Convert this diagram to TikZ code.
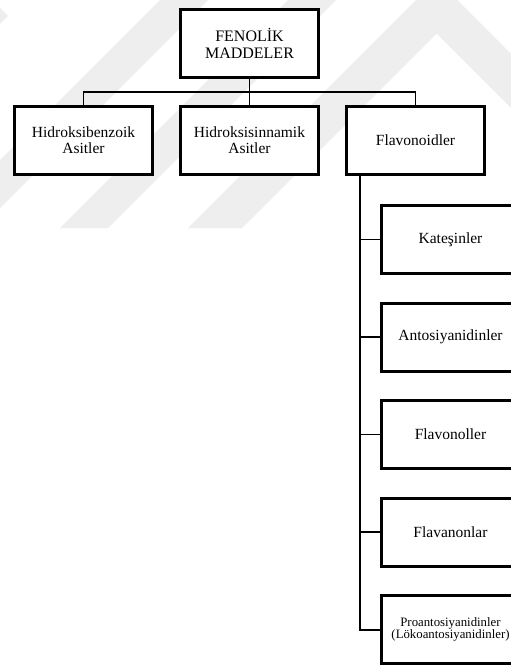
\documentclass[tikz,border=0pt]{standalone}
\usepackage{fontspec}
\setmainfont{Liberation Serif}
\usetikzlibrary{shadows}
\definecolor{wm}{RGB}{238,238,238}
\begin{document}
\begin{tikzpicture}[x=1pt,y=-1pt,
  box/.style={draw=black, line width=3pt, fill=white, rectangle, align=center,
    inner sep=0pt, outer sep=0pt, text=black,
    font=\fontsize{15.5}{16.5}\selectfont,
    drop shadow={shadow xshift=1.2pt, shadow yshift=-1.6pt, opacity=0.28}},
  topbox/.style={box, minimum width=138pt, minimum height=68.5pt,
    font=\fontsize{16}{16.5}\selectfont},
  rowbox/.style={box, minimum width=138pt, minimum height=68.5pt},
  childbox/.style={box, minimum width=139pt, minimum height=68pt},
  smalltext/.style={font=\fontsize{12.8}{12}\selectfont},
  conn/.style={draw=black, line width=1.4pt},
  bar/.style={draw=black, line width=1.2pt},
  trunk/.style={draw=black, line width=2pt},
  wmark/.style={fill=wm, draw=none}
]
\useasboundingbox (0,0) rectangle (511,669);
\clip (0,0) rectangle (511,669);
\fill[white] (0,0) rectangle (511,669);

% faint watermark
\fill[wmark] (0,8) -- (8,16) -- (0,24) -- cycle;
\fill[wmark] (160,0) -- (208,0) -- (0,208) -- (0,160) -- cycle;
\fill[wmark] (288,0) -- (336,0) -- (108,228) -- (60,228) -- cycle;
\fill[wmark] (416,0) -- (457,0) -- (511,54) -- (511,108) -- (436.5,33.5)
  -- (242,228) -- (188,228) -- cycle;

% nodes
\node[topbox] (top) at (249.5,43.4) {FENOLİK\\MADDELER};
\node[rowbox] (hb) at (83.5,140.3) {Hidroksibenzoik\\Asitler};
\node[rowbox] (hs) at (249.5,140.3) {Hidroksisinnamik\\Asitler};
\node[rowbox] (fl) at (415.5,140.3) {Flavonoidler};

\node[childbox] (c1) at (450.5,239.5) {Kateşinler};
\node[childbox] (c2) at (450.5,337) {Antosiyanidinler};
\node[childbox] (c3) at (450.5,434.5) {Flavonoller};
\node[childbox] (c4) at (450.5,532) {Flavanonlar};
\node[childbox, smalltext] (c5) at (450.5,629.5) {Proantosiyanidinler\\(Lökoantosiyanidinler)};

% connector points
\coordinate (jl) at (83.5,92);
\coordinate (jm) at (249.5,92);
\coordinate (jr) at (415.5,92);
\coordinate (tk) at (360,176);

% connectors
\draw[conn] (top.south) -- (hs.north);
\draw[bar] (hb.north) -- (jl) -- (jm) -- (jr) -- (fl.north);
\draw[trunk] (tk) |- (c5.west);
\draw[conn] (c1.west) -- (c1.west -| tk);
\draw[conn] (c2.west) -- (c2.west -| tk);
\draw[conn] (c3.west) -- (c3.west -| tk);
\draw[conn] (c4.west) -- (c4.west -| tk);
\end{tikzpicture}
\end{document}
